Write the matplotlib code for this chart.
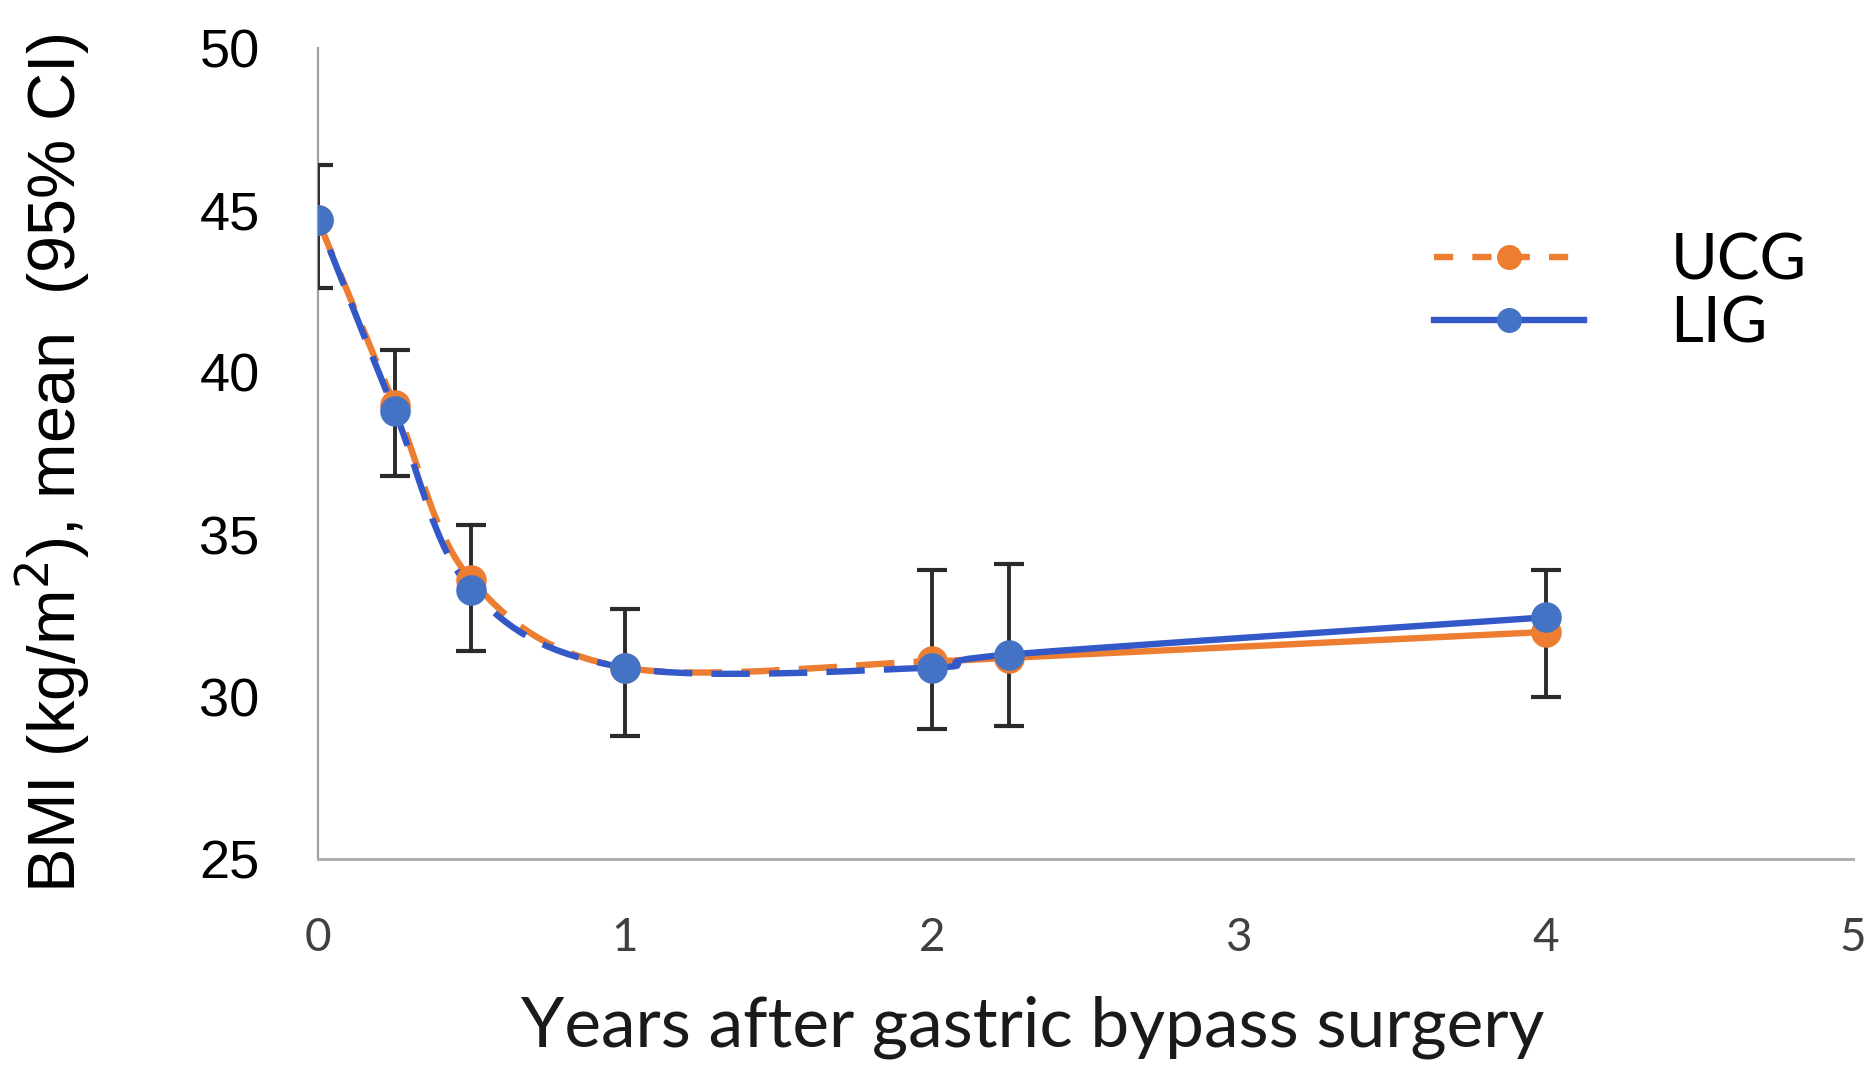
import numpy as np
import matplotlib
matplotlib.use('Agg')
import matplotlib.pyplot as plt
from matplotlib.path import Path
from matplotlib.patches import PathPatch
from matplotlib.lines import Line2D

# data
years = [0, 0.25, 0.5, 1, 2, 2.25, 4]
ucg_bmi = [44.7, 39.0, 33.6, 30.9, 31.1, 31.2, 32.0]
lig_bmi = [44.7, 38.8, 33.3, 30.9, 30.9, 31.3, 32.45]
ci_low = [42.6, 36.8, 31.4, 28.8, 29.0, 29.1, 30.0]
ci_high = [46.4, 40.7, 35.3, 32.7, 33.9, 34.1, 33.9]
series_names = ['UCG', 'LIG']
x_ticks = [0, 1, 2, 3, 4, 5]
y_ticks = [25, 30, 35, 40, 45, 50]

orange = '#ED7D31'
blue_line = '#3358C8'
blue_dot = '#4472C4'


def smooth_segments(xs, ys):
  # excel-like smoothed line: one cubic bezier per segment (catmull-rom)
  pts = np.column_stack([xs, ys]).astype(float)
  padded = np.vstack([pts[0], pts, pts[-1]])
  segs = []
  for i in range(len(pts) - 1):
    p0, p1, p2, p3 = padded[i], padded[i + 1], padded[i + 2], padded[i + 3]
    c1 = p1 + (p2 - p0) / 6.0
    c2 = p2 - (p3 - p1) / 6.0
    segs.append([p1, c1, c2, p2])
  return segs


def draw_smooth(ax, xs, ys, color, split, zorder, dash_offset=0):
  segs = smooth_segments(xs, ys)
  for part, ls in [(segs[:split], 'dashed'), (segs[split:], 'solid')]:
    verts = []
    codes = []
    for j, s in enumerate(part):
      if j == 0:
        verts.append(s[0])
        codes.append(Path.MOVETO)
      verts.extend(s[1:])
      codes.extend([Path.CURVE4] * 3)
    patch = PathPatch(Path(verts, codes), fill=False, edgecolor=color,
                      lw=4.6, transform=ax.transData, zorder=zorder,
                      capstyle='butt')
    if ls == 'dashed':
      patch.set_linestyle((dash_offset, (6, 3)))
    ax.add_patch(patch)


fig = plt.figure(figsize=(18.75, 10.68), dpi=100)
ax = fig.add_axes([0.1696, 0.1957, 0.8184, 0.7593])

split = years.index(2)
draw_smooth(ax, years, ucg_bmi, orange, split, 2, dash_offset=0)
draw_smooth(ax, years, lig_bmi, blue_line, split, 3, dash_offset=4)

lig = np.array(lig_bmi)
ax.errorbar(years, lig_bmi, yerr=[lig - np.array(ci_low), np.array(ci_high) - lig],
            fmt='none', ecolor='#2b2b2b', elinewidth=2.8, capsize=11,
            capthick=3, zorder=4)

ax.plot(years, ucg_bmi, 'o', color=orange, ms=22, mec='none', zorder=5)
ax.plot(years, lig_bmi, 'o', color=blue_dot, ms=22, mec='none', zorder=6)

ax.set_xlim(0, 5)
ax.set_ylim(25, 50)
ax.set_xticks(x_ticks)
ax.set_yticks(y_ticks)
ax.set_xticklabels([str(t) for t in x_ticks], family='Lato', fontsize=33,
                   color='#404040')
ax.set_yticklabels([str(t) for t in y_ticks], family='Liberation Sans',
                   fontsize=39)
ax.tick_params(axis='y', length=0, pad=42)
ax.tick_params(axis='x', length=0, pad=42)

for side in ['top', 'right']:
  ax.spines[side].set_visible(False)
ax.spines['left'].set_color('#a0a0a0')
ax.spines['left'].set_linewidth(1.6)
ax.spines['bottom'].set_color('#b0b0b0')
ax.spines['bottom'].set_linewidth(2.2)

ax.set_xlabel('Years after gastric bypass surgery', family='Lato',
              fontsize=50, color='#1a1a1a')
ax.xaxis.set_label_coords(0.4655, -0.168)
ax.set_ylabel('BMI (kg/m$^2$), mean  (95% CI)', family='Liberation Sans',
              fontsize=48)
ax.yaxis.set_label_coords(-0.147, 0.488)

handles = [
  Line2D([], [], color=orange, lw=4.6, ls=(0, (3, 3)), marker='o', ms=18,
         mec='none'),
  Line2D([], [], color=blue_line, lw=4.6, ls='-', marker='o', ms=18,
         mfc=blue_dot, mec='none'),
]
ax.legend(handles, series_names, loc='upper left',
          bbox_to_anchor=(0.727, 0.773), frameon=False,
          prop={'family': 'Lato', 'size': 46}, handlelength=2.35,
          handletextpad=1.36, labelspacing=0.08, borderpad=0,
          borderaxespad=0)

plt.savefig('out.png', dpi=100)
